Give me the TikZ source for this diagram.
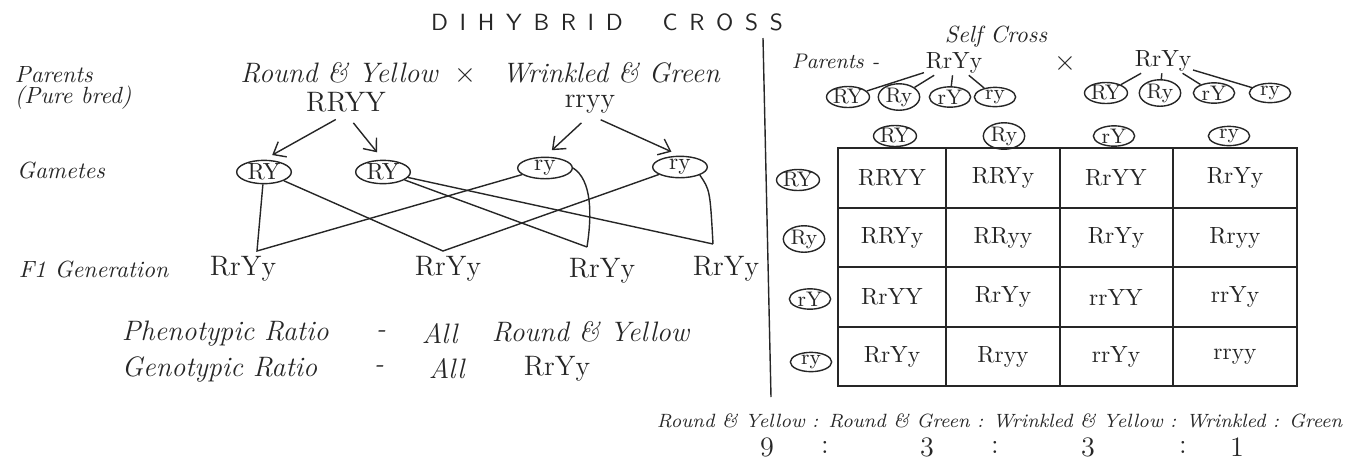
\documentclass[tikz,border=0pt]{standalone}
\usepackage{fontspec}
\usetikzlibrary{shapes.geometric,arrows.meta,positioning}
\newcommand{\tgap}{\hspace{5pt}}

\begin{document}
\begin{tikzpicture}[x=0.015cm,y=-0.015cm,>={Straight Barb[length=1.6mm,width=2.6mm]},
   line width=0.6pt,color=black!85,
   txt/.style={font=\large\itshape,inner sep=0.5pt},
   lbl/.style={anchor=west,font=\itshape,inner sep=0.5pt},
   geno/.style={font=\large,inner sep=0.5pt},
   gam/.style={draw,ellipse,inner sep=0pt,minimum width=0.82cm,minimum height=0.32cm},
   sgam/.style={draw,ellipse,inner sep=0pt,font=\small,minimum width=0.62cm,minimum height=0.26cm},
   cell/.style={font=\normalsize}]
  \useasboundingbox (0,0) rectangle (1355,459);

  % left half: pure bred cross
  \node (title) at (607,22) {\sffamily D\tgap I\tgap H\tgap Y\tgap B\tgap R\tgap I\tgap D\hspace{17pt}C\tgap R\tgap O\tgap S\tgap S};
  \node[lbl] (par) at (13,75) {Parents};
  \node[lbl] (pure) at (13,98) {(Pure bred)};
  \node[lbl] (gamlbl) at (15,170) {Gametes};
  \node[lbl] (f1lbl) at (17,269) {F1 Generation};

  \node[txt] (rndyel) at (339,73) {Round \& Yellow};
  \node[txt] (cross) at (465,75) {$\times$};
  \node[txt] (wrkgrn) at (611,73) {Wrinkled \& Green};
  \node[geno] (RRYY) at (346,102) {RRYY};
  \node[geno] (rryy) at (590,104) {rryy};

  \node[gam] (gRY1) at (264,172) {RY};
  \node[gam] (gRY2) at (383,172) {RY};
  \node[gam] (gry1) at (545,168) {ry};
  \node[gam] (gry2) at (680,167) {ry};

  \draw[->,shorten <=5pt,shorten >=4pt] (RRYY.south) -- (gRY1.north);
  \draw[->,shorten <=5pt,shorten >=4pt] (RRYY.south) -- (gRY2.north);
  \draw[->,shorten <=5pt,shorten >=4pt] (rryy.south) -- (gry1.north);
  \draw[->,shorten <=5pt,shorten >=4pt] (rryy.south) -- (gry2.north);

  \node[geno] (f1a) at (243,269) {RrYy};
  \node[geno] (f1b) at (448,269) {RrYy};
  \node[geno] (f1c) at (602,271) {RrYy};
  \node[geno] (f1d) at (726,269) {RrYy};
  \coordinate (v1) at (257,251);
  \coordinate (v2) at (443,251);
  \coordinate (v3) at (587,247);
  \coordinate (v4) at (713,244);

  \draw (gRY1) -- (v1) -- (gry1);
  \draw (gRY1) -- (v2) -- (gry2);
  \draw (gRY2) -- (v3);
  \draw (gRY2) -- (v4);
  \draw (gry1.east) .. controls (592,180) and (592,215) .. (v3);
  \draw (gry2.south east) .. controls (710,190) .. (v4);

  \node[txt,anchor=west] (phen) at (120,334) {Phenotypic Ratio};
  \node[txt] (phdash) at (381,334) {-};
  \node[txt,anchor=west] (phall) at (420,334) {All};
  \node[txt,anchor=west] (phval) at (490,332) {Round \& Yellow};
  \node[txt,anchor=west] (gen) at (120,369) {Genotypic Ratio};
  \node[txt] (gendash) at (379,369) {-};
  \node[txt,anchor=west] (genall) at (427,369) {All};
  \node[geno,anchor=west] (genval) at (522,369) {RrYy};

  % divider
  \draw (763,38) -- (771,397);

  % right half: self cross
  \node[txt,font=\normalsize\itshape] (self) at (996,37) {Self Cross};
  \node[lbl,font=\small\itshape] (par2) at (790,61) {Parents -};
  \node[geno,font=\normalsize] (p1) at (954,63) {RrYy};
  \node[txt] (cross2) at (1065,63) {$\times$};
  \node[geno,font=\normalsize] (p2) at (1163,61) {RrYy};

  \node[sgam] (sa1) at (848,97) {RY};
  \node[sgam] (sa2) at (899,97) {Ry};
  \node[sgam] (sa3) at (950,97) {rY};
  \node[sgam] (sa4) at (995,97) {ry};
  \node[sgam] (sb1) at (1106,93) {RY};
  \node[sgam] (sb2) at (1160,93) {Ry};
  \node[sgam] (sb3) at (1214,93) {rY};
  \node[sgam] (sb4) at (1270,93) {ry};

  \draw (p1) -- (sa1);
  \draw (p1) -- (sa2);
  \draw (p1) -- (sa3);
  \draw (p1) -- (sa4);
  \draw (p2) -- (sb1);
  \draw (p2) -- (sb2);
  \draw (p2) -- (sb3);
  \draw (p2) -- (sb4);

  % punnett square
  \draw (838,148) rectangle (1297,386);
  \draw (946,148) -- (946,386) (1060,148) -- (1060,386) (1173,148) -- (1173,386);
  \draw (838,208) -- (1297,208) (838,267) -- (1297,267) (838,327) -- (1297,327);

  \node[sgam] (hc1) at (895,136) {RY};
  \node[sgam] (hc2) at (1004,136) {Ry};
  \node[sgam] (hc3) at (1114,136) {rY};
  \node[sgam] (hc4) at (1229,136) {ry};
  \node[sgam] (hr1) at (798,180) {RY};
  \node[sgam] (hr2) at (804,239) {Ry};
  \node[sgam] (hr3) at (810,299) {rY};
  \node[sgam] (hr4) at (811,362) {ry};

  \node[cell] (c11) at (892,178) {RRYY};
  \node[cell] (c12) at (1003,178) {RRYy};
  \node[cell] (c13) at (1116,178) {RrYY};
  \node[cell] (c14) at (1235,178) {RrYy};
  \node[cell] (c21) at (892,238) {RRYy};
  \node[cell] (c22) at (1003,238) {RRyy};
  \node[cell] (c23) at (1116,238) {RrYy};
  \node[cell] (c24) at (1235,238) {Rryy};
  \node[cell] (c31) at (892,297) {RrYY};
  \node[cell] (c32) at (1003,297) {RrYy};
  \node[cell] (c33) at (1116,297) {rrYY};
  \node[cell] (c34) at (1235,297) {rrYy};
  \node[cell] (c41) at (892,357) {RrYy};
  \node[cell] (c42) at (1003,357) {Rryy};
  \node[cell] (c43) at (1116,357) {rrYy};
  \node[cell] (c44) at (1235,357) {rryy};

  % ratio
  \node[anchor=west,font=\fontsize{8.2}{10}\selectfont\itshape,inner sep=0.5pt] (ratio) at (655,421)
    {Round \& Yellow : Round \& Green : Wrinkled \& Yellow : Wrinkled : Green};
  \node[geno] (n9) at (767,447) {9};
  \node[geno] (k1) at (825,447) {:};
  \node[geno] (n3a) at (927,447) {3};
  \node[geno] (k2) at (995,447) {:};
  \node[geno] (n3b) at (1088,447) {3};
  \node[geno] (k3) at (1183,447) {:};
  \node[geno] (n1) at (1237,447) {1};
\end{tikzpicture}
\end{document}
